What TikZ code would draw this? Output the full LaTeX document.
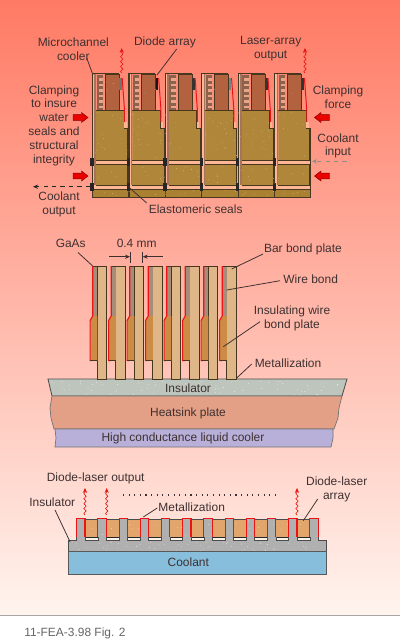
\documentclass[tikz,border=0pt]{standalone}
\usepackage{fontspec}
\setmainfont{Liberation Sans}
\usetikzlibrary{arrows.meta,decorations.pathmorphing}
\definecolor{ink}{RGB}{62,48,48}
\definecolor{edge}{RGB}{70,55,30}
\definecolor{bgtop}{RGB}{255,122,100}
\definecolor{bgmid}{RGB}{255,176,152}
\definecolor{bgbot}{RGB}{255,244,238}
\definecolor{gold}{RGB}{176,134,58}
\definecolor{goldb}{RGB}{170,128,50}
\definecolor{brick}{RGB}{178,98,62}
\definecolor{strip}{RGB}{255,182,150}
\definecolor{mauve}{RGB}{165,115,90}
\definecolor{barc}{RGB}{222,182,135}
\definecolor{greybar}{RGB}{168,140,122}
\definecolor{orng}{RGB}{204,140,70}
\definecolor{insA}{RGB}{190,197,188}
\definecolor{heat}{RGB}{228,160,135}
\definecolor{coolr}{RGB}{185,176,218}
\definecolor{insB}{RGB}{176,176,176}
\definecolor{coolb}{RGB}{135,190,220}
\definecolor{orngb}{RGB}{226,166,108}
\definecolor{lased}{RGB}{235,20,20}
\tikzset{
  x=0.025cm,y=-0.025cm,
  lab/.style={font=\fontsize{8.5}{9.8}\selectfont,text=ink,align=center,inner sep=0pt},
  lead/.style={draw=ink,line width=0.55pt},
  wall/.style={draw=edge,line width=0.6pt},
  beam/.style={draw=lased,line width=0.45pt,decorate,decoration={snake,amplitude=0.8pt,segment length=3.5pt,post length=3pt},-{Stealth[length=3.5pt,width=3pt]}},
  clampshape/.style={fill=red!92!black,draw=red!50!black,line width=0.35pt},
  flow/.style={dashed,line width=0.55pt,-{Stealth[length=3.5pt,width=3pt]}}
}
\newcommand{\speck}[6]{%
  \foreach \k in {1,...,#5}{%
    \pgfmathsetmacro\ux{#1+rnd*(#3-#1)}%
    \pgfmathsetmacro\uy{#2+rnd*(#4-#2)}%
    \fill[#6] (\ux,\uy) circle[radius=0.4];
  }}
% block arrow: centre x, centre y, direction (+1 right, -1 left)
\newcommand{\clampmark}[3]{%
  \path[clampshape,shift={(#1,#2)},xscale=#3] (-7.5,-2.8) -- (1,-2.8) -- (1,-5) -- (7.5,0) -- (1,5) -- (1,2.8) -- (-7.5,2.8) -- cycle;}
\begin{document}
\begin{tikzpicture}
\useasboundingbox (0,0) rectangle (400,640);
\pgfmathsetseed{11}
\fill[white] (0,0) rectangle (400,640);
\shade[top color=bgtop,middle color=bgmid,bottom color=bgbot] (0,0) rectangle (400,615);
\draw[draw=black!35,line width=0.7pt] (0,615) -- (400,615);

% ===== top: stack of six coolers
\foreach \i/\dc in {0/55,1/90,2/80,3/50,4/80,5/80}{
 \pgfmathsetmacro\xz{92+36.45*\i}
 \begin{scope}[shift={(\xz,0)}]
  \fill[goldb] (0,189) rectangle (36.45,197);
  \fill[strip] (0,160.5) rectangle (36.45,164) (0,185) rectangle (36.45,189);
  \fill[gold] (4,110) -- (32,110) -- (32,128) -- (35.5,128) -- (35.5,160) -- (4,160) -- cycle;
  \fill[gold] (4,164) rectangle (35.5,185);
  \draw[wall] (4,110) -- (32,110) -- (32,128) -- (35.5,128) -- (35.5,160) -- (4,160);
  \draw[wall] (4,164) -- (35.5,164) -- (35.5,185) -- (4,185);
  \fill[mauve] (2.4,73) rectangle (4,185);
  \fill[strip] (1,73) rectangle (2.4,189);
  \draw[wall,line width=0.9pt] (0.5,73) -- (0.5,197);
  \draw[wall] (0.5,73) -- (27,73);
  \draw[wall] (0,189) -- (36.45,189) (0,197) -- (36.45,197);
  % micro-channels
  \fill[mauve!85!black] (4.5,75) rectangle (11,110);
  \foreach \yy in {78,83.5,89,94.5,100,105.5}{
    \fill[strip!75!mauve] (6.5,\yy) rectangle (11,\yy+2.6);
  }
  % diode bar
  \fill[brick] (13,73.8) rectangle (27,110);
  \draw[edge,line width=0.35pt] (13,73.8) rectangle (27,110);
  \fill[black!\dc] (27.4,78) rectangle (30,90);
  \draw[lased,line width=0.7pt] (30.2,78) -- (32.5,110) -- (32.5,122);
  \fill[strip] (32.2,122) rectangle (34.5,128);
  % seals
  \fill[black!85] (-1.6,158.4) rectangle (1.6,165.6);
  \fill[black!85] (-1.6,183.4) rectangle (1.6,190.6);
 \end{scope}
}
\draw[wall] (310.7,128) -- (310.7,197);
\speck{95}{112}{310}{158}{90}{white!45!gold}
\speck{95}{166}{310}{184}{36}{white!45!gold}
\speck{92}{190}{310}{196}{24}{white!45!gold}
\speck{105}{75}{300}{108}{16}{white!40!brick}

\coordinate (beamA0) at (121.7,73);
\coordinate (beamA1) at (121.7,48);
\coordinate (beamB0) at (305,73);
\coordinate (beamB1) at (305,48);
\draw[beam] (beamA0) -- (beamA1);
\draw[beam] (beamB0) -- (beamB1);

\clampmark{80.5}{117.5}{1}
\clampmark{80.5}{176}{1}
\clampmark{322}{117.5}{-1}
\clampmark{322}{176}{-1}

\node[lab] (tMicro) at (73.3,49) {Microchannel\\cooler};
\node[lab] (tDiode) at (165,42.5) {Diode array};
\node[lab] (tLaser) at (270.7,49) {Laser-array\\output};
\node[lab] (tClampL) at (54,125.5) {Clamping\\to insure\\water\\seals and\\structural\\integrity};
\node[lab] (tClampR) at (338,97.5) {Clamping\\force};
\node[lab] (tIn) at (338,146) {Coolant\\input};
\node[lab] (tOut) at (59,204.5) {Coolant\\output};
\node[lab] (tSeal) at (195.7,209.5) {Elastomeric seals};

\coordinate (pMicro) at (93,75);
\coordinate (pDiode) at (157,75);
\coordinate (pSeal) at (128.3,186.7);
\coordinate (pInA) at (346.7,161.3);
\coordinate (pInB) at (312,161.3);
\coordinate (pOutA) at (90,186.7);
\coordinate (pOutB) at (33,186.7);
\draw[lead] (86.7,58) -- (pMicro);
\draw[lead] (176.7,49) -- (pDiode);
\draw[lead] (146.7,203) -- (pSeal);
\draw[flow,draw=black!45] (pInA) -- (pInB);
\draw[flow,draw=black!85] (pOutA) -- (pOutB);

% ===== middle: stacked bars
\path[fill=insA,draw=black!70,line width=0.6pt] (48,379) -- (347,379) -- (342,396) -- (52,396) -- cycle;
\speck{52}{381}{342}{395}{70}{white}
\path[fill=heat,draw=black!55,line width=0.5pt] (52,396) -- (50,408) -- (51,418) -- (54,429) -- (334,429) -- (338,418) -- (339,408) -- (342,396) -- cycle;
\path[fill=coolr,draw=black!55,line width=0.5pt] (55,429) -- (56,438) -- (55,447) -- (331,447) -- (333,438) -- (333,429) -- cycle;
\foreach \i in {0,...,7}{
 \pgfmathsetmacro\xz{97.3+18.5*\i}
 \begin{scope}[shift={(\xz,0)}]
  \fill[barc] (0,266) rectangle (9.4,379);
  \draw[edge,line width=0.5pt] (0,266) rectangle (9.4,379);
  \fill[orng] (-7,320.5) -- (-4,316) -- (0,316) -- (0,360.6) -- (-7,360.6) -- cycle;
  \fill[greybar] (-4.4,266) rectangle (0,316);
  \draw[edge,line width=0.4pt] (-4.4,266) -- (0,266);
  \draw[lased,line width=0.8pt] (-4.6,266) -- (-4.6,316) -- (-7.2,320.5) -- (-7.2,360.6) -- (-5,360.6);
  \draw[edge,line width=0.4pt] (-7,360.6) -- (0,360.6);
 \end{scope}
}
\node[lab] (tGaAs) at (70.7,243.5) {GaAs};
\node[lab] (tGap) at (136.7,243.5) {0.4 mm};
\node[lab] (tBar) at (303,249) {Bar bond plate};
\node[lab] (tWire) at (310.7,279) {Wire bond};
\node[lab] (tPlate) at (292,318.5) {Insulating wire\\bond plate};
\node[lab] (tMet) at (288,363) {Metallization};
\node[lab] (tIns) at (188,388) {Insulator};
\node[lab] (tHeat) at (188,413) {Heatsink plate};
\node[lab] (tCool) at (183,438) {High conductance liquid cooler};
\coordinate (pGaAs) at (92.7,266);
\coordinate (pBar) at (231.7,269);
\coordinate (pWire) at (226.7,290);
\coordinate (pPlate) at (223.3,346.7);
\coordinate (pMet) at (236.7,378);
\coordinate (gapL) at (130,256.7);
\coordinate (gapR) at (142.7,256.7);
\draw[lead] (78,252.5) -- (pGaAs);
\draw[lead] (263,254) -- (pBar);
\draw[lead] (280,280.7) -- (pWire);
\draw[lead] (260,321.7) -- (pPlate);
\draw[lead] (251.7,364) -- (pMet);
\draw[lead,-{Stealth[length=3.5pt,width=3pt]}] (109.3,256.7) -- (gapL);
\draw[lead,-{Stealth[length=3.5pt,width=3pt]}] (162.7,256.7) -- (gapR);
\draw[lead] (130,252) -- (130,263) (142.7,252) -- (142.7,263);

% ===== bottom: comb
\foreach \i in {0,...,10}{
 \pgfmathsetmacro\xz{85+21.2*\i}
 \fill[orngb] (\xz,519) rectangle (\xz+12.9,537);
 \fill[white!85!orngb] (\xz,537) rectangle (\xz+12.9,540.7);
 \draw[black!70,line width=0.45pt] (\xz,519) -- (\xz+12.9,519);
 \draw[black!85,line width=0.6pt] (\xz,537) -- (\xz+12.9,537);
}
\fill[insB] (68.3,540.7) rectangle (326.7,551.7);
\foreach \i in {0,...,11}{
 \pgfmathsetmacro\xz{76.7+21.2*\i}
 \fill[insB] (\xz,518.3) rectangle (\xz+8.3,541);
 \draw[black!70,line width=0.4pt] (\xz,537) -- (\xz,540.7) (\xz+8.3,537) -- (\xz+8.3,540.7);
}
\draw[black!70,line width=0.5pt] (68.3,551.7) -- (68.3,540.7) -- (76.7,540.7);
\draw[black!70,line width=0.5pt] (326.7,551.7) -- (326.7,540.7) -- (318.2,540.7);
\foreach \i in {0,...,10}{
 \pgfmathsetmacro\xz{85+21.2*\i}
 \draw[black!70,line width=0.5pt] (\xz,540.7) -- (\xz+12.9,540.7);
}
\speck{70}{542}{325}{551}{60}{white!70!orngb}
\speck{87}{521}{306}{536}{30}{white!70!orngb}
\foreach \i in {0,...,11}{
 \pgfmathsetmacro\xz{76.7+21.2*\i}
 \draw[lased,line width=0.75pt] (\xz,537) -- (\xz,518.3) -- (\xz+8.3,518.3) -- (\xz+8.3,537);
}
\path[fill=coolb,draw=black!65,line width=0.6pt] (68.3,551.7) rectangle (326.7,574.3);
\foreach \n/\xx in {c/85,d/106.7,e/297}{
 \coordinate (bm\n0) at (\xx,515);
 \coordinate (bm\n1) at (\xx,488);
 \draw[beam] (bm\n0) -- (bm\n1);
}
\coordinate (dotA) at (123,495);
\coordinate (dotB) at (280,495);
\draw[ink,line width=0.8pt,dash pattern=on 0.8pt off 3.2pt] (dotA) -- (dotB);
\node[lab] (tOutp) at (95.7,478) {Diode-laser output};
\node[lab] (tArr) at (336.7,489.5) {Diode-laser\\array};
\node[lab] (tIns2) at (52.3,502.5) {Insulator};
\node[lab] (tMet2) at (191.7,507) {Metallization};
\node[lab] (tCoolant) at (188.3,562.5) {Coolant};
\coordinate (pIns2) at (70,541.7);
\coordinate (pMet2) at (143.3,517);
\coordinate (pArr) at (303.3,520.7);
\draw[lead] (55,510) -- (pIns2);
\draw[lead] (157.3,508) -- (pMet2);
\draw[lead] (317.7,499) -- (pArr);
\node[lab,text=black!60,anchor=west] (tFig) at (24,633) {11-FEA-3.98 Fig. 2};
\end{tikzpicture}
\end{document}
